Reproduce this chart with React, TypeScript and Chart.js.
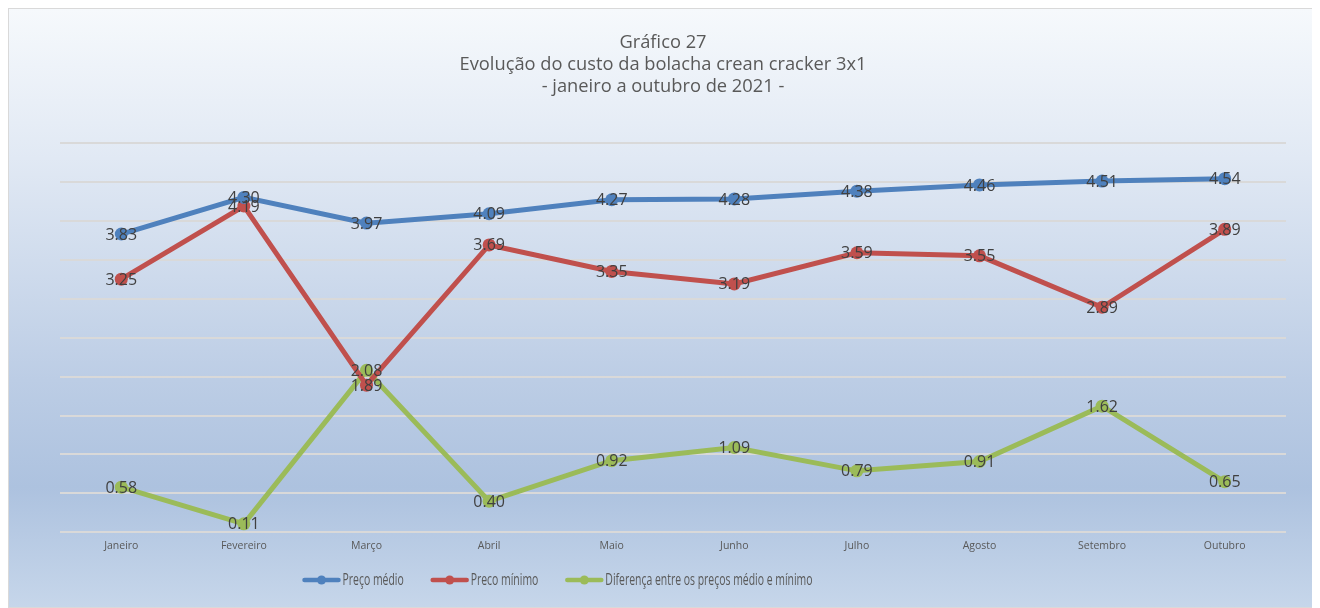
import React, { useEffect, useRef } from "react";
import { Chart, registerables } from "chart.js";

Chart.register(...registerables);

const months = ["Janeiro", "Fevereiro", "Março", "Abril", "Maio", "Junho", "Julho", "Agosto", "Setembro", "Outubro"];
const precoMedio = [3.83, 4.30, 3.97, 4.09, 4.27, 4.28, 4.38, 4.46, 4.51, 4.54];
const precoMinimo = [3.25, 4.19, 1.89, 3.69, 3.35, 3.19, 3.59, 3.55, 2.89, 3.89];
const diferenca = [0.58, 0.11, 2.08, 0.40, 0.92, 1.09, 0.79, 0.91, 1.62, 0.65];
const seriesNames = ["Preço médio", "Preco mínimo", "Diferença entre os preços médio e mínimo"];
const seriesColors = ["#4f81bd", "#c0504d", "#9bbb59"];
const titleLines = ["Gráfico 27", "Evolução do custo da bolacha crean cracker 3x1", "- janeiro a outubro de 2021 -"];

const dataLabels = {
  id: "dataLabels",
  afterDatasetsDraw(chart: any) {
    const ctx = chart.ctx;
    ctx.save();
    ctx.font = "16px 'Open Sans'";
    ctx.fillStyle = "#404040";
    ctx.textAlign = "center";
    ctx.textBaseline = "middle";
    chart.data.datasets.forEach((ds: any, i: number) => {
      const meta = chart.getDatasetMeta(i);
      meta.data.forEach((pt: any, j: number) => {
        ctx.fillText(Number(ds.data[j]).toFixed(2), pt.x, pt.y + 1);
      });
    });
    ctx.restore();
  },
};

// Legend with a condensed text face (line + marker icon, like the original)
const condensedLegend = {
  id: "condensedLegend",
  afterDraw(chart: any) {
    const ctx = chart.ctx;
    const sx = 0.652;
    const lineLen = 38;
    const textGap = 2;
    const itemGap = 27;
    const cy = 571;
    const cx = 548.5;
    ctx.save();
    ctx.font = "16px 'Open Sans'";
    ctx.textBaseline = "middle";
    ctx.textAlign = "left";
    const items = chart.data.datasets.map((ds: any, i: number) => {
      const tw = ctx.measureText(ds.label).width * sx;
      return { text: ds.label, color: seriesColors[i], w: lineLen + textGap + tw };
    });
    const total = items.reduce((s: number, it: any) => s + it.w, 0) + itemGap * (items.length - 1);
    let x = cx - total / 2;
    items.forEach((it: any) => {
      ctx.strokeStyle = it.color;
      ctx.lineWidth = 4.5;
      ctx.lineCap = "round";
      ctx.beginPath();
      ctx.moveTo(x + 2, cy);
      ctx.lineTo(x + lineLen - 2, cy);
      ctx.stroke();
      ctx.fillStyle = it.color;
      ctx.beginPath();
      ctx.arc(x + lineLen / 2, cy, 4.5, 0, Math.PI * 2);
      ctx.fill();
      ctx.save();
      ctx.translate(x + lineLen + textGap, cy);
      ctx.scale(sx, 1);
      ctx.fillStyle = "#595959";
      ctx.fillText(it.text, 0, 0);
      ctx.restore();
      x += it.w + itemGap;
    });
    ctx.restore();
  },
};

export default function App() {
  const ref = useRef<HTMLCanvasElement>(null);
  useEffect(() => {
    const values = [precoMedio, precoMinimo, diferenca];
    const chart = new Chart(ref.current!, {
      type: "line",
      data: {
        labels: months,
        datasets: values.map((v, i) => ({
          label: seriesNames[i],
          data: v,
          borderColor: seriesColors[i],
          backgroundColor: seriesColors[i],
          borderWidth: 5,
          pointRadius: 6.5,
          pointBorderWidth: 0,
          pointBackgroundColor: seriesColors[i],
          tension: 0,
        })),
      },
      options: {
        animation: false,
        responsive: false,
        maintainAspectRatio: false,
        layout: { padding: { left: 31, right: 33, top: 0, bottom: 48 } },
        plugins: {
          title: {
            display: true,
            text: titleLines,
            color: "#595959",
            font: { family: "'Open Sans'", size: 18.3, weight: "normal", lineHeight: 1.2 },
            padding: { top: 23, bottom: 45 },
          },
          legend: { display: false },
          tooltip: { enabled: false },
        },
        scales: {
          x: {
            offset: true,
            grid: { display: false, drawTicks: false },
            border: { display: false },
            ticks: {
              color: "#595959",
              padding: 7,
              font: { family: "'Open Sans'", size: 10.5 },
            },
          },
          y: {
            min: 0,
            max: 5,
            border: { display: false },
            grid: { color: "#d9d9d9", lineWidth: 2, drawTicks: false },
            ticks: { display: false, stepSize: 0.5 },
            afterFit: (scale: any) => {
              scale.width = 20;
            },
          },
        },
      },
      plugins: [dataLabels, condensedLegend],
    });
    return () => chart.destroy();
  }, []);

  return (
    <div
      style={{
        width: 1310,
        height: 598,
        border: "1px solid #d9d9d9",
        background:
          "linear-gradient(to bottom, #f6f9fc 0%, #e1e9f4 25%, #bccde5 62%, #adc2df 80%, #c6d6ea 100%)",
      }}
    >
      <canvas ref={ref} width={1310} height={598} style={{ display: "block" }} />
    </div>
  );
}
